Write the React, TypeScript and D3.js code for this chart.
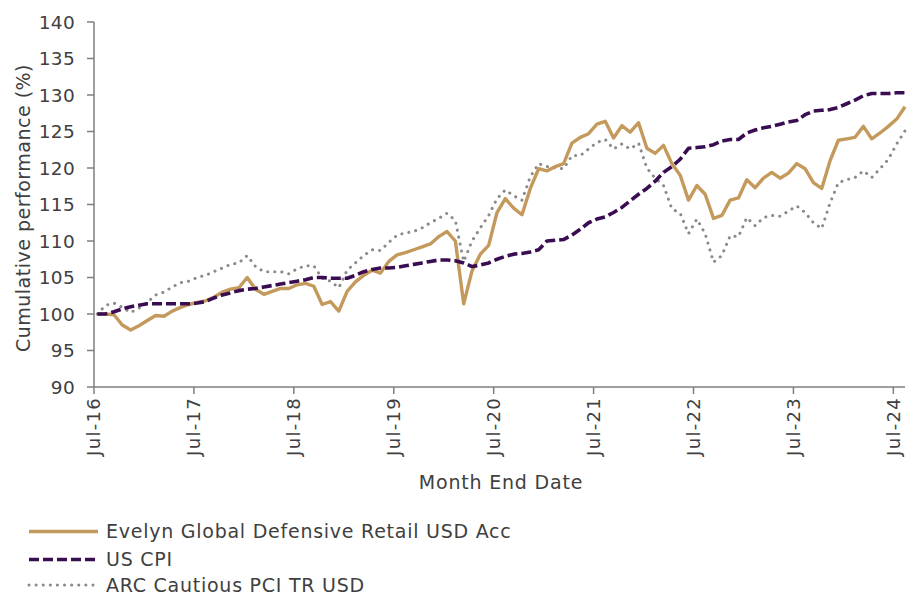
import React from "react";
import * as d3 from "d3";

const fund = [
  100.0, 100.0, 99.9, 98.5, 97.8, 98.4, 99.1, 99.8, 99.7, 100.4, 100.9, 101.3,
  101.6, 101.8, 102.3, 103.0, 103.4, 103.6, 105.0, 103.4, 102.7, 103.1, 103.5, 103.5,
  104.0, 104.2, 103.8, 101.3, 101.7, 100.4, 103.1, 104.4, 105.3, 106.0, 105.6, 107.2,
  108.1, 108.4, 108.8, 109.2, 109.6, 110.6, 111.3, 110.0, 101.4, 105.9, 108.2, 109.4,
  113.9, 115.8, 114.5, 113.6, 117.2, 119.9, 119.6, 120.2, 120.6, 123.4, 124.2, 124.7,
  126.0, 126.4, 124.1, 125.8, 124.9, 126.2, 122.7, 122.0, 123.1, 120.6, 119.0, 115.6,
  117.6, 116.4, 113.1, 113.5, 115.6, 115.9, 118.4, 117.3, 118.6, 119.4, 118.6, 119.3,
  120.6, 119.9, 118.0, 117.2, 121.0, 123.8, 124.0, 124.2, 125.7, 124.0, 124.8, 125.7,
  126.7, 128.4,
];

const cpi = [
  100.0, 100.0, 100.3, 100.7, 101.0, 101.2, 101.4, 101.4, 101.4, 101.4, 101.4, 101.4,
  101.5, 101.7, 102.2, 102.6, 102.9, 103.2, 103.4, 103.5, 103.7, 103.9, 104.1, 104.3,
  104.5, 104.7, 105.0, 105.0, 104.9, 104.9, 104.9, 105.3, 105.8, 106.1, 106.3, 106.3,
  106.4, 106.6, 106.8, 107.0, 107.2, 107.4, 107.4, 107.3, 107.0, 106.5, 106.7, 107.0,
  107.5, 107.9, 108.2, 108.3, 108.5, 108.8, 110.0, 110.1, 110.2, 110.8, 111.6, 112.5,
  113.0, 113.3, 113.9, 114.6, 115.5, 116.4, 117.2, 118.2, 119.4, 120.2, 121.2, 122.7,
  122.8, 122.9, 123.2, 123.7, 123.9, 123.9, 124.8, 125.2, 125.5, 125.7, 126.0, 126.3,
  126.5, 127.3, 127.8, 127.9, 128.0, 128.3, 128.8, 129.3, 129.9, 130.2, 130.2, 130.2,
  130.3, 130.3,
];

const arc = [
  100.0, 101.2, 101.5, 100.9, 100.2, 100.8, 101.6, 102.6, 103.0, 103.7, 104.3, 104.5,
  105.0, 105.3, 105.8, 106.3, 106.8, 107.0, 108.0, 106.5, 105.8, 105.8, 105.8, 105.5,
  106.2, 106.6, 106.6, 104.9, 104.5, 103.6, 106.0, 107.0, 108.0, 108.8, 108.7, 109.8,
  110.8, 111.1, 111.3, 111.8, 112.5, 113.1, 113.8, 112.8, 107.2, 110.0, 111.8, 113.5,
  115.8, 117.0, 116.2, 115.6, 118.8, 120.6, 120.2, 120.0, 119.9, 121.7, 121.7, 122.6,
  123.5, 123.9, 122.6, 123.3, 122.6, 123.4, 120.0, 118.6, 117.6, 114.4, 113.8, 111.0,
  113.0, 111.0, 107.1, 108.0, 110.7, 110.6, 113.2, 112.1, 113.2, 113.5, 113.4, 114.1,
  114.8, 113.9, 112.5, 111.7, 115.2, 118.0, 118.4, 118.7, 119.6, 118.7, 119.9, 121.2,
  123.3, 125.1,
];

const yTicks = [90, 95, 100, 105, 110, 115, 120, 125, 130, 135, 140];
const xTickMonths = [0, 12, 24, 36, 48, 60, 72, 84, 96];
const xTickLabels = ["Jul-16", "Jul-17", "Jul-18", "Jul-19", "Jul-20", "Jul-21", "Jul-22", "Jul-23", "Jul-24"];

const seriesNames = ["Evelyn Global Defensive Retail USD Acc", "US CPI", "ARC Cautious PCI TR USD"];

const FONT = "'DejaVu Sans', sans-serif";
const TEXT = "#404040";
const AXIS = "#7f7f7f";
const GOLD = "#c49a5c";
const PURPLE = "#3a0d52";
const GREY = "#8a8a8a";

export default function App() {
  const W = 919;
  const H = 597;
  const x = d3.scaleLinear().domain([-0.4, 97]).range([94, 905]);
  const y = d3.scaleLinear().domain([90, 140]).range([387, 22]);
  const line = d3
    .line<number>()
    .x((_, i) => x(i))
    .y((d) => y(d));

  const styles = [
    { stroke: GOLD, width: 3.4, dash: undefined as string | undefined, cap: "butt" },
    { stroke: PURPLE, width: 3.6, dash: "10,4", cap: "butt" },
    { stroke: GREY, width: 3, dash: "0.1,7", cap: "round" },
  ];
  const data = [fund, cpi, arc];
  const legendY = [531.5, 559.5, 585];

  return (
    <svg
      width={W}
      height={H}
      style={{ position: "absolute", left: 0, top: 0, background: "#fff" }}
      fontFamily={FONT}
    >
      <rect x={0} y={0} width={W} height={H} fill="#fff" />
      {/* y axis */}
      <line x1={x.range()[0]} x2={x.range()[0]} y1={y(140)} y2={y(90)} stroke={AXIS} strokeWidth={1.5} />
      {yTicks.map((t) => (
        <g key={t}>
          <line x1={87} x2={94} y1={y(t)} y2={y(t)} stroke={AXIS} strokeWidth={1.5} />
          <text x={75} y={y(t)} dy="0.36em" textAnchor="end" fontSize={18.5} letterSpacing={0.3} fill={TEXT}>
            {t}
          </text>
        </g>
      ))}
      {/* x axis */}
      <line x1={x.range()[0]} x2={x.range()[1]} y1={y(90)} y2={y(90)} stroke={AXIS} strokeWidth={1.5} />
      {xTickMonths.map((m, i) => {
        const px = x(m - 0.4);
        return (
          <g key={m}>
            <line x1={px} x2={px} y1={y(90)} y2={y(90) + 7} stroke={AXIS} strokeWidth={1.5} />
            <text
              transform={`translate(${px},${y(90) + 10}) rotate(-90)`}
              dy="0.36em"
              textAnchor="end"
              fontSize={18}
              letterSpacing={1.3}
              fill={TEXT}
            >
              {xTickLabels[i]}
            </text>
          </g>
        );
      })}
      {/* axis titles */}
      <text
        transform={`translate(${23},${208}) rotate(-90)`}
        dy="0.36em"
        textAnchor="middle"
        fontSize={19}
        letterSpacing={0.5}
        fill={TEXT}
      >
        Cumulative performance (%)
      </text>
      <text x={501} y={482} dy="0.36em" textAnchor="middle" fontSize={19} letterSpacing={0.8} fill={TEXT}>
        Month End Date
      </text>
      {/* series */}
      {[2, 0, 1].map((k) => (
        <path
          key={k}
          d={line(data[k]) || ""}
          fill="none"
          stroke={styles[k].stroke}
          strokeWidth={styles[k].width}
          strokeDasharray={styles[k].dash}
          strokeLinecap={styles[k].cap as any}
          strokeLinejoin="round"
        />
      ))}
      {/* legend */}
      {seriesNames.map((name, k) => (
        <g key={name}>
          <line
            x1={29}
            x2={98}
            y1={legendY[k]}
            y2={legendY[k]}
            stroke={styles[k].stroke}
            strokeWidth={styles[k].width}
            strokeDasharray={styles[k].dash}
            strokeLinecap={styles[k].cap as any}
          />
          <text x={106} y={legendY[k]} dy="0.36em" fontSize={19} letterSpacing={0.75} fill={TEXT}>
            {name}
          </text>
        </g>
      ))}
    </svg>
  );
}
